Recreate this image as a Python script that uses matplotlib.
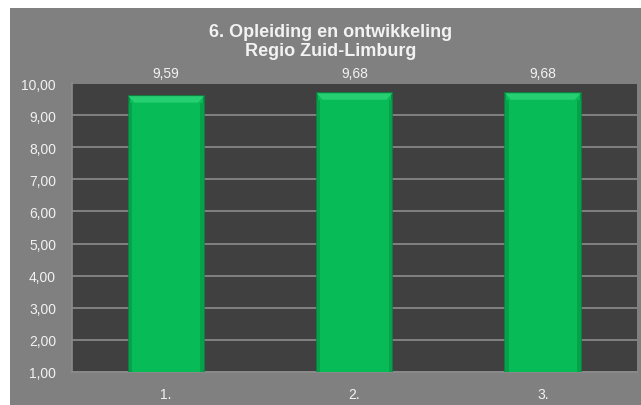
import matplotlib.pyplot as plt
from matplotlib.patches import Rectangle, Polygon
from matplotlib.ticker import FuncFormatter

plt.rcParams['font.family'] = ['Liberation Sans', 'DejaVu Sans']

# data
categories = ['1.', '2.', '3.']
values = [9.59, 9.68, 9.68]
value_labels = ['9,59', '9,68', '9,68']
title = '6. Opleiding en ontwikkeling\nRegio Zuid-Limburg'

fig = plt.figure(figsize=(6.41, 4.06), dpi=100)
fig.patch.set_facecolor('white')
# grey chart area
fig.patches.append(Rectangle((10 / 641, 0), 1 - 10 / 641, 1 - 9 / 406,
                             transform=fig.transFigure, facecolor='#808080',
                             edgecolor='none', zorder=0))

ax = fig.add_axes([72 / 641, 1 - 373 / 406, 565 / 641, 289 / 406])
ax.set_zorder(2)
ax.set_facecolor('#404040')

x = list(range(len(categories)))
w = 0.4
bars = ax.bar(x, values, width=w, bottom=0, color='#07BC57',
              edgecolor='#07893f', linewidth=1.2, zorder=3)

# bevel look on top of each bar
bh = 0.2   # bevel height in data units
bw = 0.03  # bevel inset
for b in bars:
    x0, x1 = b.get_x(), b.get_x() + b.get_width()
    top = b.get_height()
    ax.add_patch(Polygon([(x0, top), (x1, top), (x1 - bw, top - bh), (x0 + bw, top - bh)],
                         closed=True, facecolor='#27cf73', edgecolor='none', zorder=4))
    ax.add_patch(Rectangle((x0, 1), bw * 0.6, top - 1 - bh, facecolor='#06a24b',
                           edgecolor='none', zorder=4))
    ax.add_patch(Rectangle((x1 - bw * 0.6, 1), bw * 0.6, top - 1 - bh, facecolor='#06a24b',
                           edgecolor='none', zorder=4))

for xi, lab in zip(x, value_labels):
    ax.text(xi, 10.08, lab, ha='center', va='bottom', color='#f2f2f2',
            fontsize=10, clip_on=False)

ax.set_xlim(-0.5, 2.5)
ax.set_ylim(1, 10)
ax.set_yticks(range(1, 11))
ax.yaxis.set_major_formatter(FuncFormatter(lambda v, p: '{:.2f}'.format(v).replace('.', ',')))
ax.set_xticks(x)
ax.set_xticklabels(categories)
ax.tick_params(axis='both', colors='#f2f2f2', labelsize=10, length=0)
ax.tick_params(axis='y', pad=11.5)
ax.tick_params(axis='x', pad=11)
ax.grid(axis='y', color='#8c8c8c', linewidth=1.2, zorder=1)
for s in ['top', 'right']:
    ax.spines[s].set_visible(False)
for s in ['left', 'bottom']:
    ax.spines[s].set_color('#8c8c8c')
    ax.spines[s].set_linewidth(1.2)

fig.text(331 / 641, 1 - 42 / 406, title, ha='center', va='center',
         color='#f2f2f2', fontsize=13, fontweight='bold', linespacing=1.12)

plt.savefig('out.png', dpi=100)
